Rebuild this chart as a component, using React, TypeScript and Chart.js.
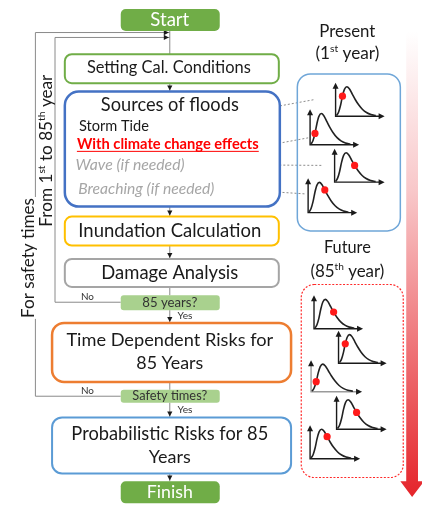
import React, { useEffect, useRef } from "react";
import { Chart, registerables } from "chart.js";
Chart.register(...registerables);

const W = 422;
const H = 508;
const FONT = "Lato, 'Open Sans', sans-serif";

// ---------- data ----------
// shape of the skewed hazard curve (fractions of the small axis width / height)
const curveX = [0.02, 0.06, 0.1, 0.14, 0.18, 0.23, 0.28, 0.34, 0.4, 0.47, 0.55, 0.63, 0.72, 0.82];
const curveY = [0.02, 0.12, 0.32, 0.6, 0.8, 0.88, 0.82, 0.66, 0.5, 0.34, 0.2, 0.11, 0.05, 0.02];
// index on the curve where the red dot sits
const presentDots = [3, 2, 8, 7];
const futureDots = [8, 3, 2, 8, 7];

const stepLabels = [
  "Start",
  "Setting Cal. Conditions",
  "Sources of floods",
  "Inundation Calculation",
  "Damage Analysis",
  "85 years?",
  "Time Dependent Risks for",
  "85 Years",
  "Safety times?",
  "Probabilistic Risks for 85",
  "Years",
  "Finish",
];
const sourceLabels = ["Storm Tide", "With climate change effects", "Wave (if needed)", "Breaching (if needed)"];
const branchLabels = ["No", "Yes"];
const loopLabels = ["For safety times"];

// ---------- layout ----------
const presentPlots = [
  [338, 114, 50, 34],
  [312, 143, 50, 36],
  [337, 181, 51, 34],
  [310, 212, 50, 35],
];
const futurePlots = [
  [316, 330, 50, 34],
  [341, 365, 49, 33],
  [313, 394, 52, 32],
  [339, 432, 51, 34],
  [312, 462, 51, 34],
];

type Box = { x: number; y: number; w: number; h: number; r: number; fill?: string; stroke?: string; lw?: number };
const boxes: Box[] = [
  { x: 119, y: 5, w: 99, h: 22, r: 5, fill: "#70ad47" },
  { x: 62, y: 51, w: 214, h: 29, r: 7, stroke: "#70ad47", lw: 2 },
  { x: 62, y: 89, w: 215, h: 115, r: 14, stroke: "#4472c4", lw: 2.5 },
  { x: 62, y: 216, w: 214, h: 29, r: 7, stroke: "#ffc000", lw: 2 },
  { x: 62, y: 259, w: 214, h: 28, r: 7, stroke: "#a5a5a5", lw: 2 },
  { x: 119, y: 296, w: 99, h: 15, r: 3, fill: "#a9d18e" },
  { x: 49, y: 324, w: 239, h: 59, r: 12, stroke: "#ed7d31", lw: 2.5 },
  { x: 119, y: 392, w: 99, h: 13, r: 3, fill: "#a9d18e" },
  { x: 49, y: 420, w: 239, h: 56, r: 10, stroke: "#5b9bd5", lw: 2 },
  { x: 119, y: 485, w: 99, h: 22, r: 5, fill: "#70ad47" },
];

// [label index, cx, cy, width, color]
const stepText: [number, number, number, number, string][] = [
  [0, 169, 16, 39, "#ffffff"],
  [1, 168, 65, 164, "#1a1a1a"],
  [2, 169, 103, 138, "#1a1a1a"],
  [3, 169, 231, 183, "#1a1a1a"],
  [4, 169, 273, 137, "#1a1a1a"],
  [5, 169, 303.5, 55, "#333333"],
  [6, 169, 342, 207, "#1a1a1a"],
  [7, 169, 365, 67, "#1a1a1a"],
  [8, 169, 398.5, 75, "#333333"],
  [9, 169, 437, 197, "#1a1a1a"],
  [10, 169, 460, 42, "#1a1a1a"],
  [11, 169, 496, 46, "#ffffff"],
];

function rr(ctx: CanvasRenderingContext2D, x: number, y: number, w: number, h: number, r: number) {
  ctx.beginPath();
  ctx.moveTo(x + r, y);
  ctx.lineTo(x + w - r, y);
  ctx.arcTo(x + w, y, x + w, y + r, r);
  ctx.lineTo(x + w, y + h - r);
  ctx.arcTo(x + w, y + h, x + w - r, y + h, r);
  ctx.lineTo(x + r, y + h);
  ctx.arcTo(x, y + h, x, y + h - r, r);
  ctx.lineTo(x, y + r);
  ctx.arcTo(x, y, x + r, y, r);
  ctx.closePath();
}

type Part = { t: string; sup?: boolean };
function fontStr(size: number, weight = "normal", style = "normal") {
  return `${style} ${weight} ${size}px ${FONT}`;
}
function richWidth(ctx: CanvasRenderingContext2D, parts: Part[], size: number, weight: string, style: string) {
  let tot = 0;
  for (const p of parts) {
    ctx.font = fontStr(p.sup ? size * 0.6 : size, weight, style);
    tot += ctx.measureText(p.t).width;
  }
  return tot;
}
function drawRich(
  ctx: CanvasRenderingContext2D,
  parts: Part[],
  cx: number,
  cy: number,
  target: number,
  o: { color?: string; weight?: string; style?: string; rotate?: boolean; underline?: boolean; bg?: string } = {}
) {
  const weight = o.weight || "normal";
  const style = o.style || "normal";
  const base = 20;
  const size = (base * target) / richWidth(ctx, parts, base, weight, style);
  const tw = richWidth(ctx, parts, size, weight, style);
  ctx.save();
  ctx.translate(cx, cy);
  if (o.rotate) ctx.rotate(-Math.PI / 2);
  if (o.bg) {
    ctx.fillStyle = o.bg;
    ctx.fillRect(-tw / 2 - 1, -size * 0.6, tw + 2, size * 1.2);
  }
  ctx.textBaseline = "middle";
  ctx.textAlign = "left";
  ctx.fillStyle = o.color || "#1a1a1a";
  let x = -tw / 2;
  for (const p of parts) {
    const s = p.sup ? size * 0.6 : size;
    ctx.font = fontStr(s, weight, style);
    ctx.fillText(p.t, x, p.sup ? -size * 0.28 : 0);
    x += ctx.measureText(p.t).width;
  }
  if (o.underline) {
    ctx.strokeStyle = o.color || "#1a1a1a";
    ctx.lineWidth = 1;
    ctx.beginPath();
    ctx.moveTo(-tw / 2, size * 0.45);
    ctx.lineTo(tw / 2, size * 0.45);
    ctx.stroke();
  }
  ctx.restore();
}

function arrowHead(ctx: CanvasRenderingContext2D, x: number, y: number, ang: number, len = 5, hw = 2.8, color = "#1a1a1a") {
  ctx.save();
  ctx.translate(x, y);
  ctx.rotate(ang);
  ctx.fillStyle = color;
  ctx.beginPath();
  ctx.moveTo(0, 0);
  ctx.lineTo(-len, -hw);
  ctx.lineTo(-len, hw);
  ctx.closePath();
  ctx.fill();
  ctx.restore();
}

const flowPlugin = {
  id: "flow",
  beforeDatasetsDraw(chart: any) {
    const ctx: CanvasRenderingContext2D = chart.ctx;
    const xs = chart.scales.x;
    const ys = chart.scales.y;
    const X = (v: number) => xs.getPixelForValue(v);
    const Y = (v: number) => ys.getPixelForValue(v);
    ctx.save();
    ctx.fillStyle = "#ffffff";
    ctx.fillRect(0, 0, chart.width, chart.height);

    // red gradient arrow
    const g = ctx.createLinearGradient(0, Y(28), 0, Y(500));
    g.addColorStop(0, "rgba(255,255,255,1)");
    g.addColorStop(0.35, "#f8c6c8");
    g.addColorStop(1, "#e5252b");
    ctx.fillStyle = g;
    ctx.beginPath();
    ctx.moveTo(X(410), Y(28));
    ctx.lineTo(X(422), Y(28));
    ctx.lineTo(X(422), Y(485));
    ctx.lineTo(X(428), Y(485));
    ctx.lineTo(X(416), Y(501));
    ctx.lineTo(X(404), Y(485));
    ctx.lineTo(X(410), Y(485));
    ctx.closePath();
    ctx.fill();

    // connectors
    ctx.strokeStyle = "#8a8a8a";
    ctx.lineWidth = 1;
    const segs: [number, number, boolean][] = [
      [27, 51, false],
      [80, 89, true],
      [204, 216, true],
      [245, 259, true],
      [287, 296, false],
      [311, 324, true],
      [383, 392, false],
      [405, 420, true],
      [476, 485, true],
    ];
    for (const [a, b, head] of segs) {
      ctx.beginPath();
      ctx.moveTo(X(169), Y(a));
      ctx.lineTo(X(169), Y(b));
      ctx.stroke();
      if (head) arrowHead(ctx, X(169), Y(b - 1), Math.PI / 2, 5, 2.6);
    }
    const loops: [number, number, number][] = [
      [303, 52, 34],
      [398.5, 32, 29],
    ];
    for (const [yy, lx, ty] of loops) {
      ctx.beginPath();
      ctx.moveTo(X(119), Y(yy));
      ctx.lineTo(X(lx), Y(yy));
      ctx.lineTo(X(lx), Y(ty));
      ctx.lineTo(X(169), Y(ty));
      ctx.stroke();
      arrowHead(ctx, X(168), Y(ty), 0, 5, 2.6);
    }

    // dotted connectors to the present curves
    ctx.setLineDash([2, 2]);
    ctx.strokeStyle = "#8c8c8c";
    const dots: [number, number, number, number][] = [
      [169, 124, 317, 97],
      [272, 143, 310, 136],
      [195, 163, 325, 164],
      [231, 188, 308, 193],
    ];
    for (const [a, b, c, d] of dots) {
      ctx.beginPath();
      ctx.moveTo(X(a), Y(b));
      ctx.lineTo(X(c), Y(d));
      ctx.stroke();
    }
    ctx.setLineDash([]);

    // boxes
    for (const b of boxes) {
      rr(ctx, X(b.x), Y(b.y), b.w, b.h, b.r);
      ctx.fillStyle = b.fill || "#ffffff";
      ctx.fill();
      if (b.stroke) {
        ctx.strokeStyle = b.stroke;
        ctx.lineWidth = b.lw || 1;
        ctx.stroke();
      }
    }

    // present / future panels
    rr(ctx, X(299), Y(71), 103, 157, 13);
    ctx.strokeStyle = "#6fa6d8";
    ctx.lineWidth = 1.5;
    ctx.stroke();
    rr(ctx, X(303), Y(285), 102, 193, 13);
    ctx.strokeStyle = "#ff2a2a";
    ctx.lineWidth = 1.2;
    ctx.setLineDash([2, 1.6]);
    ctx.stroke();
    ctx.setLineDash([]);

    // small axes
    const all = [...presentPlots, ...futurePlots];
    all.forEach(([ox, oy, w, h], i) => {
      const col = i === 6 ? "#9a9a9a" : "#1a1a1a";
      ctx.strokeStyle = col;
      ctx.lineWidth = 1.4;
      ctx.beginPath();
      ctx.moveTo(X(ox), Y(oy - h + 4));
      ctx.lineTo(X(ox), Y(oy));
      ctx.lineTo(X(ox + w - 4), Y(oy));
      ctx.stroke();
      arrowHead(ctx, X(ox), Y(oy - h), -Math.PI / 2, 6, 3, "#1a1a1a");
      arrowHead(ctx, X(ox + w), Y(oy), 0, 6, 3, "#1a1a1a");
    });
    ctx.restore();
  },
  afterDatasetsDraw(chart: any) {
    const ctx: CanvasRenderingContext2D = chart.ctx;
    const xs = chart.scales.x;
    const ys = chart.scales.y;
    const X = (v: number) => xs.getPixelForValue(v);
    const Y = (v: number) => ys.getPixelForValue(v);
    ctx.save();
    for (const [i, cx, cy, w, col] of stepText) {
      drawRich(ctx, [{ t: stepLabels[i] }], X(cx), Y(cy), w, { color: col });
    }
    drawRich(ctx, [{ t: sourceLabels[0] }], X(112), Y(124), 70, { color: "#1a1a1a" });
    drawRich(ctx, [{ t: sourceLabels[1] }], X(167), Y(143), 182, { color: "#ff0000", weight: "bold", underline: true });
    drawRich(ctx, [{ t: sourceLabels[2] }], X(128.5), Y(163), 109, { color: "#a6a6a6", style: "italic" });
    drawRich(ctx, [{ t: sourceLabels[3] }], X(145), Y(188), 136, { color: "#a6a6a6", style: "italic" });

    drawRich(ctx, [{ t: branchLabels[0] }], X(85), Y(297), 13, { color: "#333" });
    drawRich(ctx, [{ t: branchLabels[1] }], X(184.5), Y(317), 15, { color: "#333" });
    drawRich(ctx, [{ t: branchLabels[0] }], X(85), Y(393), 13, { color: "#333" });
    drawRich(ctx, [{ t: branchLabels[1] }], X(184.5), Y(412), 15, { color: "#333" });

    drawRich(ctx, [{ t: loopLabels[0] }], X(25), Y(258), 120, { color: "#1a1a1a", rotate: true, bg: "#ffffff" });
    drawRich(
      ctx,
      [{ t: "From 1" }, { t: "st", sup: true }, { t: " to 85" }, { t: "th", sup: true }, { t: " year" }],
      X(43),
      Y(149),
      152,
      { color: "#1a1a1a", rotate: true }
    );

    drawRich(ctx, [{ t: "Present" }], X(350), Y(28), 56, { color: "#1a1a1a" });
    drawRich(ctx, [{ t: "(1" }, { t: "st", sup: true }, { t: " year)" }], X(350), Y(50), 64, { color: "#1a1a1a" });
    drawRich(ctx, [{ t: "Future" }], X(350), Y(248), 47, { color: "#1a1a1a" });
    drawRich(ctx, [{ t: "(85" }, { t: "th", sup: true }, { t: " year)" }], X(350), Y(272), 74, { color: "#1a1a1a" });
    ctx.restore();
  },
};

export default function App() {
  const ref = useRef<HTMLCanvasElement>(null);
  useEffect(() => {
    const plots = [...presentPlots, ...futurePlots];
    const dotIdx = [...presentDots, ...futureDots];
    const curveSets = plots.map(([ox, oy, w, h]) => ({
      type: "line" as const,
      data: curveX.map((fx, k) => ({ x: ox + fx * w, y: oy - curveY[k] * h })),
      borderColor: "#222222",
      borderWidth: 1.6,
      pointRadius: 0,
      cubicInterpolationMode: "monotone" as const,
      fill: false,
      clip: false as any,
      order: 1,
    }));
    const dotSet = {
      type: "scatter" as const,
      data: plots.map(([ox, oy, w, h], i) => ({
        x: ox + curveX[dotIdx[i]] * w,
        y: oy - curveY[dotIdx[i]] * h,
      })),
      pointRadius: 3.6,
      pointBackgroundColor: "#ff1a1a",
      pointBorderWidth: 0,
      borderColor: "#ff1a1a",
      showLine: false,
      clip: false as any,
      order: 0,
    };
    const chart = new Chart(ref.current!, {
      type: "line",
      data: { datasets: [dotSet as any, ...curveSets] },
      options: {
        animation: false,
        responsive: false,
        maintainAspectRatio: false,
        layout: { padding: 0 },
        plugins: { legend: { display: false }, tooltip: { enabled: false } },
        events: [],
        scales: {
          x: { type: "linear", min: 0, max: W, display: false },
          y: { type: "linear", min: 0, max: H, reverse: true, display: false },
        },
      },
      plugins: [flowPlugin],
    });
    return () => chart.destroy();
  }, []);
  return (
    <div style={{ position: "absolute", left: 0, top: 0, width: W, height: H, background: "#ffffff" }}>
      <canvas ref={ref} width={W} height={H} style={{ width: W, height: H, display: "block" }} />
    </div>
  );
}
